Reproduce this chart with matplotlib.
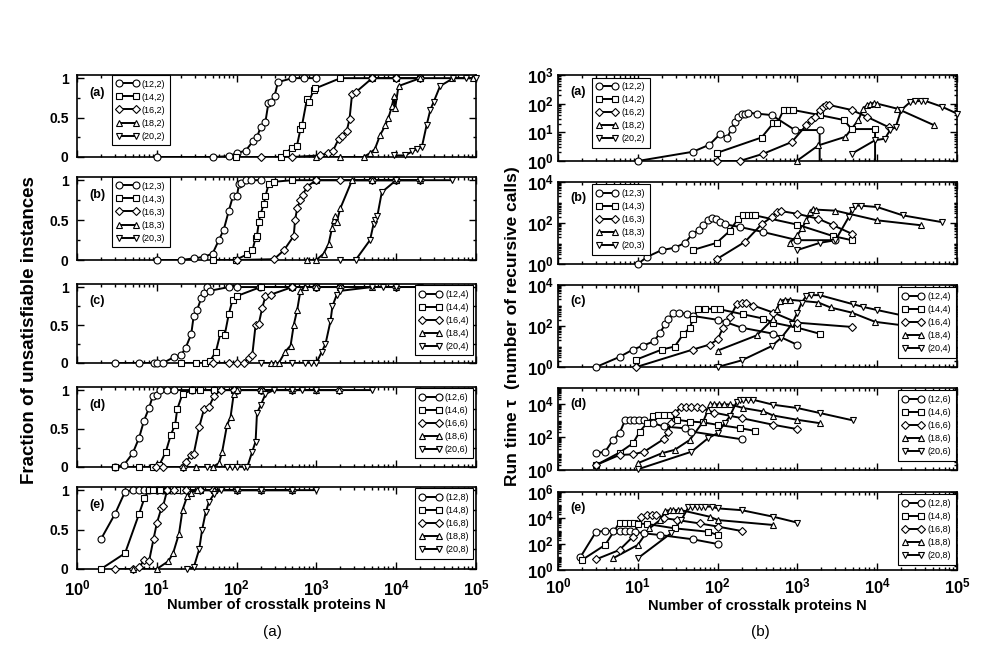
import numpy as np
import matplotlib
matplotlib.use('Agg')
import matplotlib.pyplot as plt
from matplotlib.lines import Line2D
from matplotlib.ticker import FixedLocator, LogLocator, NullFormatter, FuncFormatter

plt.rcParams['font.family'] = ['Liberation Sans', 'DejaVu Sans']
plt.rcParams['mathtext.fontset'] = 'custom'
plt.rcParams['mathtext.bf'] = 'Liberation Sans:bold'
plt.rcParams['mathtext.rm'] = 'Liberation Sans:bold'

sizes = [12, 14, 16, 18, 20]
ks = [2, 3, 4, 6, 8]
markers = ['o', 's', 'D', '^', 'v']
tags = ['(a)', '(b)', '(c)', '(d)', '(e)']

# ---- fraction of unsatisfiable instances (left column) ----
frac_a_N = [[10, 50, 80, 100, 130, 160, 180, 200, 230, 250, 270, 300, 330, 500, 700, 1000],
            [97, 355, 410, 500, 570, 630, 660, 760, 800, 930, 970, 2000, 5000, 10000, 20000],
            [200, 500, 1100, 1400, 1600, 1900, 2100, 2400, 2600, 2800, 3100, 5000, 10000, 20000],
            [1000, 2000, 3900, 4700, 5400, 6300, 7300, 8000, 8900, 9300, 9700, 10700, 20000, 50000, 93000],
            [9500, 13000, 15800, 18000, 21000, 24000, 26800, 29500, 35500, 52000, 76000, 100000]]
frac_a_y = [[0, 0, 0.01, 0.05, 0.08, 0.2, 0.25, 0.38, 0.45, 0.68, 0.7, 0.78, 0.95, 1, 1, 1],
            [0, 0, 0.05, 0.12, 0.14, 0.35, 0.4, 0.73, 0.7, 0.85, 0.87, 1, 1, 1, 1],
            [0, 0, 0.02, 0.05, 0.07, 0.23, 0.27, 0.33, 0.48, 0.8, 0.82, 1, 1, 1],
            [0, 0, 0, 0.05, 0.1, 0.28, 0.4, 0.5, 0.65, 0.77, 0.62, 0.9, 1, 1, 1],
            [0.02, 0.02, 0.07, 0.1, 0.13, 0.4, 0.6, 0.7, 0.9, 1, 1, 1]]

frac_b_N = [[10, 20, 29, 39, 50, 60, 69, 80, 90, 101, 107, 115, 130, 150, 200],
            [50, 97, 135, 158, 173, 180, 190, 200, 219, 230, 252, 294, 500, 1000, 5000, 10000],
            [100, 294, 390, 520, 540, 575, 630, 680, 760, 1000, 2000, 5000, 10000, 20000],
            [760, 1000, 1230, 1420, 1570, 1650, 1720, 1800, 2000, 2800, 5000, 10000, 20000],
            [2000, 3100, 4700, 5200, 5500, 5800, 6600, 10000, 20000, 50000]]
frac_b_y = [[0, 0, 0.02, 0.04, 0.08, 0.25, 0.38, 0.62, 0.8, 0.8, 0.95, 0.97, 1, 1, 1],
            [0, 0, 0.07, 0.12, 0.28, 0.3, 0.48, 0.58, 0.7, 0.8, 0.95, 0.98, 1, 1, 1, 1],
            [0, 0.01, 0.12, 0.3, 0.5, 0.65, 0.75, 0.82, 0.92, 1, 1, 1, 1, 1],
            [0, 0, 0.08, 0.2, 0.4, 0.5, 0.55, 0.48, 0.65, 1, 1, 1, 1],
            [0, 0, 0.25, 0.45, 0.5, 0.55, 0.85, 1, 1, 1]]

frac_c_N = [[3, 6, 9.3, 10, 12, 16.5, 20, 23, 27, 29, 32, 36, 39, 43, 46, 80, 100, 196, 490, 1000],
            [20, 31, 40, 46, 55, 63, 71, 80, 89, 100, 200, 500, 1000, 2000],
            [50, 80, 100, 123, 141, 157, 173, 190, 210, 230, 267, 500, 1000, 2000, 10000],
            [267, 307, 338, 407, 475, 520, 575, 630, 724, 1000, 2000, 5000, 10000, 20000],
            [200, 500, 724, 845, 1000, 1170, 1300, 1500, 1590, 1800, 2000, 5000, 6900, 10000, 20000]]
frac_c_y = [[0, 0, 0, 0, 0, 0.08, 0.1, 0.2, 0.38, 0.62, 0.7, 0.85, 0.92, 1, 0.95, 1, 1, 1, 1, 1],
            [0, 0, 0, 0.02, 0.15, 0.4, 0.37, 0.65, 0.83, 0.88, 1, 1, 1, 1],
            [0, 0, 0, 0, 0.07, 0.1, 0.5, 0.52, 0.73, 0.88, 0.9, 1, 1, 1, 1],
            [0, 0, 0, 0.15, 0.23, 0.5, 0.7, 0.95, 1, 1, 1, 1, 1, 1],
            [0, 0, 0, 0, 0, 0.15, 0.25, 0.55, 0.75, 0.9, 0.95, 1, 1, 1, 1]]

frac_d_N = [[3, 3.9, 5, 6, 6.9, 8, 8.9, 10, 11, 13.5, 16.5, 28, 52, 100, 200],
            [3, 6, 9, 10.7, 13, 15, 17, 18, 21, 28, 35, 52, 92],
            [9.7, 12, 21, 23, 27, 29, 34, 39, 45, 52, 63, 92, 200, 500, 1900],
            [21, 31, 50, 60, 66, 76, 84, 92, 100, 200, 500, 1000, 1900],
            [43, 76, 88, 100, 124, 136, 157, 173, 180, 200, 230, 294, 500, 660, 1000, 5000]]
frac_d_y = [[0, 0.03, 0.18, 0.38, 0.6, 0.77, 0.92, 0.93, 1, 1, 1, 1, 1, 1, 1],
            [0, 0, 0, 0.02, 0.2, 0.42, 0.55, 0.75, 0.95, 1, 1, 1, 1],
            [0, 0, 0, 0.07, 0.15, 0.17, 0.52, 0.75, 0.78, 0.92, 1, 1, 1, 1, 1],
            [0, 0, 0, 0.05, 0.2, 0.55, 0.65, 0.95, 1, 1, 1, 1, 1],
            [0, 0, 0, 0, 0, 0, 0.2, 0.33, 0.7, 0.8, 0.95, 1, 1, 1, 1, 1]]

frac_e_N = [[2, 3, 4, 5, 6, 7, 8, 10, 12, 15, 20],
            [2, 4, 6, 7, 8, 9, 11, 13.5, 18, 24, 35, 52],
            [3, 5, 6, 7, 8, 9.1, 10, 11.4, 12, 13.5, 16.5, 23, 35, 50, 100, 200, 500],
            [5, 10, 14, 16, 19, 21, 24, 27, 32, 52, 100, 200, 500],
            [24, 29, 34, 37, 41, 45, 52, 63, 100, 200, 500, 1000]]
frac_e_y = [[0.38, 0.7, 0.98, 1, 1, 1, 1, 1, 1, 1, 1],
            [0, 0.2, 0.7, 0.9, 1, 1, 1, 1, 1, 1, 1, 1],
            [0, 0, 0.02, 0.12, 0.1, 0.38, 0.58, 0.77, 0.8, 1, 1, 1, 1, 1, 1, 1, 1],
            [0, 0, 0.1, 0.2, 0.45, 0.75, 0.92, 0.97, 1, 1, 1, 1, 1],
            [0, 0.02, 0.25, 0.5, 0.72, 0.85, 0.95, 1, 1, 1, 1, 1]]

# ---- run time (right column) ----
time_a_N = [[10, 49, 79, 107, 132, 150, 165, 180, 200, 220, 240, 310, 475, 930, 1900, 5000],
            [97, 355, 500, 560, 670, 780, 890, 1900, 3800, 4800, 9400, 20000],
            [97, 190, 375, 850, 1300, 1500, 1660, 1900, 2100, 2300, 2500, 4800, 7400, 14000],
            [980, 1830, 4000, 5800, 6700, 7400, 8100, 9000, 10000, 17800, 51000],
            [4800, 9400, 12500, 14500, 17000, 20000, 26000, 30000, 35000, 40000, 65000, 100000]]
time_a_y = [[1, 2.1, 3.7, 8.6, 6.5, 13.5, 23, 35, 42, 45, 48, 45, 40, 12, 12, 0],
            [1.9, 6.6, 21, 21, 60, 60, 60, 40, 27, 13, 13, 0],
            [1, 1, 1.8, 4.6, 18, 27, 35, 60, 78, 89, 90, 60, 35, 15],
            [1, 3.5, 7, 27, 67, 89, 100, 105, 100, 67, 18],
            [1.8, 5.3, 6, 12, 15, 60, 115, 120, 125, 125, 78, 45]]

time_b_N = [[10, 13, 20, 29, 39, 48, 59, 66, 76, 84, 95, 107, 125, 190, 375, 1000, 3000],
            [49, 97, 142, 180, 210, 240, 270, 295, 1000, 2800, 4800],
            [97, 220, 355, 475, 550, 630, 1000, 1830, 2800, 4800],
            [800, 1000, 1150, 1300, 1450, 1550, 1700, 3000, 10000, 35000],
            [1000, 1900, 3000, 4400, 4800, 5300, 6200, 10000, 21000, 65000]]
time_b_y = [[1, 2.2, 4.8, 6.2, 10.7, 28, 48, 80, 135, 180, 150, 110, 86, 64, 36, 14.5, 14.5],
            [4.8, 10.7, 41, 160, 235, 235, 235, 235, 83, 23, 14.5],
            [1.7, 12, 86, 195, 340, 380, 280, 160, 78, 30],
            [10.7, 25, 60, 135, 340, 490, 450, 400, 135, 78],
            [4.8, 10.7, 14.5, 195, 450, 700, 700, 600, 235, 110]]

time_c_N = [[3, 5.9, 8.7, 11.6, 16, 19, 22, 24, 28, 33, 41, 49, 100, 129, 200, 500, 1000],
            [9.6, 20, 29, 37, 45, 49, 57, 70, 90, 107, 210, 375, 500, 1000, 1900],
            [9.6, 49, 80, 100, 117, 142, 174, 200, 230, 280, 500, 1000, 4800],
            [100, 310, 500, 550, 610, 700, 810, 1830, 2600, 4800, 9400, 20000],
            [100, 200, 475, 630, 850, 1000, 1130, 1300, 1500, 1900, 5000, 6700, 10000, 23000, 60000]]
time_c_y = [[1, 3.1, 7.1, 11, 18, 47, 120, 230, 420, 420, 400, 310, 200, 150, 83, 42, 12],
            [2.3, 7.1, 10, 39, 83, 210, 700, 700, 680, 650, 370, 230, 145, 83, 42],
            [1, 7.1, 12.5, 22, 83, 260, 1150, 1300, 1400, 1000, 450, 145, 90],
            [6.3, 35, 230, 650, 1700, 1900, 1900, 1400, 800, 450, 160, 110],
            [1, 2.1, 10.4, 27, 120, 450, 1400, 3000, 3200, 3200, 1150, 850, 600, 300, 150]]

time_d_N = [[3, 3.9, 4.9, 5.9, 6.9, 8, 9, 10.5, 12, 15.6, 21, 39, 47, 200],
            [3, 5.9, 8.7, 10.6, 13, 15.6, 18, 21, 25, 31, 45, 66, 100, 190, 295],
            [3, 5.9, 8.7, 12, 21, 24, 26, 29, 35, 40, 47, 55, 63, 89, 200, 500, 1000],
            [10, 20, 29, 45, 66, 76, 80, 90, 105, 120, 142, 210, 375, 500, 1000, 1900],
            [10, 47, 76, 100, 123, 142, 174, 190, 210, 240, 280, 500, 1000, 1900, 5000]]
time_d_y = [[10.5, 13, 69, 175, 1050, 1050, 1050, 1050, 1050, 720, 450, 350, 220, 75],
            [2, 11.5, 43, 220, 720, 1850, 2300, 2300, 2300, 1150, 900, 800, 570, 360, 240],
            [2, 8.3, 9, 13, 75, 220, 720, 2900, 6800, 6800, 6800, 6500, 6000, 3200, 1450, 570, 310],
            [2.6, 10.5, 17, 69, 900, 4700, 10000, 10000, 10000, 10000, 10000, 6000, 3700, 2100, 1150, 720],
            [1.1, 13, 87, 175, 720, 1850, 15000, 19000, 19000, 19000, 19000, 9500, 6000, 3000, 1050]]

time_e_N = [[1.9, 3, 3.9, 4.9, 5.9, 6.9, 8, 9.2, 12, 19, 49, 100],
            [2, 3.9, 5.9, 7, 8, 9, 10, 13, 29, 76, 100],
            [3, 5.9, 8.7, 11, 13, 15, 17, 21, 31, 60, 100, 200],
            [4.9, 10, 14, 19, 22, 25, 28, 32, 35, 80, 100, 500],
            [10, 26, 35, 43, 48, 55, 62, 70, 84, 100, 200, 500, 1000]]
time_e_y = [[9.4, 880, 1000, 1000, 1000, 1000, 950, 880, 660, 490, 230, 100],
            [5.9, 85, 4400, 4400, 4400, 4000, 3700, 3500, 1600, 880, 490],
            [6.6, 35, 370, 11000, 17000, 17000, 17000, 10000, 7000, 3800, 2200, 1000],
            [8, 85, 1600, 7000, 35000, 40000, 40000, 40000, 40000, 12500, 7000, 2900],
            [8, 660, 7000, 65000, 75000, 75000, 75000, 75000, 75000, 55000, 40000, 12500, 4400]]

frac_N = [frac_a_N, frac_b_N, frac_c_N, frac_d_N, frac_e_N]
frac_y = [frac_a_y, frac_b_y, frac_c_y, frac_d_y, frac_e_y]
time_N = [time_a_N, time_b_N, time_c_N, time_d_N, time_e_N]
time_y = [time_a_y, time_b_y, time_c_y, time_d_y, time_e_y]
time_top = [1e3, 1e4, 1e4, 1e5, 1e6]
time_major = [[1, 1e1, 1e2, 1e3], [1, 1e2, 1e4], [1, 1e2, 1e4], [1, 1e2, 1e4], [1, 1e2, 1e4, 1e6]]

W, H = 981, 653
left_rows = [(75, 157), (177, 260), (284, 363), (387, 467), (487, 569)]
right_rows = [(75, 161), (182, 264), (285, 367), (388, 470), (492, 570)]

fig = plt.figure(figsize=(W / 100, H / 100), dpi=100)

pow10 = FuncFormatter(lambda v, p: r'$\mathbf{10^{%d}}$' % round(np.log10(v)))


def style(ax, last):
    ax.set_xscale('log')
    ax.set_xlim(1, 1e5)
    ax.xaxis.set_major_locator(FixedLocator([10.0 ** i for i in range(6)]))
    ax.xaxis.set_minor_locator(LogLocator(base=10, subs=np.arange(2, 10), numticks=20))
    ax.xaxis.set_minor_formatter(NullFormatter())
    ax.xaxis.set_major_formatter(pow10 if last else NullFormatter())
    ax.tick_params(which='both', direction='in', top=True, right=True, width=1)
    ax.tick_params(which='major', length=5, labelsize=10, pad=2)
    ax.tick_params(axis='x', which='major', labelsize=12, pad=5)
    ax.tick_params(which='minor', length=2.5)
    for lab in ax.get_yticklabels() + ax.get_xticklabels():
        lab.set_fontweight('bold')
    for s in ax.spines.values():
        s.set_linewidth(1.2)


def draw(ax, n, y, m, logy):
    n = np.array(n, float)
    y = np.array(y, float)
    ax.plot(n, y, '-', color='k', lw=1.4, zorder=2)
    ok = y > 0 if logy else np.ones(len(y), bool)
    ax.plot(n[ok], y[ok], ls='none', marker=m, ms=5 if m != 'D' else 4,
            mfc='white', mec='k', mew=0.8, clip_on=False, zorder=3)


def handles(k):
    hs = [Line2D([], [], color='k', lw=1.4, marker=m, ms=5 if m != 'D' else 4,
                 mfc='white', mec='k', mew=0.8) for m in markers]
    return hs, ['(%d,%d)' % (s, k) for s in sizes]


leg_kw = dict(fontsize=6.5, numpoints=2, handlelength=2.4, frameon=True, fancybox=False,
              edgecolor='k', framealpha=1, labelspacing=0.45, borderpad=0.5, handletextpad=0.4)

for i in range(5):
    # left column
    t, b = left_rows[i]
    ax = fig.add_axes([77 / W, 1 - b / H, 399 / W, (b - t) / H])
    ax.set_ylim(0, 1.04)
    for j in range(5):
        draw(ax, frac_N[i][j], frac_y[i][j], markers[j], False)
    ax.yaxis.set_major_locator(FixedLocator([0, 0.5, 1]))
    ax.yaxis.set_major_formatter(FuncFormatter(lambda v, p: {0: '0', 0.5: '0.5', 1: '1'}[v]))
    ax.yaxis.set_minor_locator(FixedLocator([0.25, 0.75]))
    style(ax, i == 4)
    ax.tick_params(axis='y', which='major', pad=6)
    ax.tick_params(axis='x', which='major', pad=6.5)
    ax.text(0.03, 0.78, tags[i], transform=ax.transAxes, fontsize=9, fontweight='bold', va='center')
    hs, labs = handles(ks[i])
    if i < 2:
        lg = ax.legend(hs, labs, loc='upper left', bbox_to_anchor=(0.088, 1.0), borderaxespad=0, **leg_kw)
    else:
        lg = ax.legend(hs, labs, loc='upper right', bbox_to_anchor=(0.993, 0.985), borderaxespad=0, **leg_kw)
    lg.get_frame().set_linewidth(0.8)

    # right column
    t, b = right_rows[i]
    ax = fig.add_axes([558 / W, 1 - b / H, 399 / W, (b - t) / H])
    ax.set_yscale('log')
    ax.set_ylim(1, time_top[i])
    for j in range(5):
        draw(ax, time_N[i][j], time_y[i][j], markers[j], True)
    ax.yaxis.set_major_locator(FixedLocator(time_major[i]))
    ax.yaxis.set_major_formatter(pow10)
    ax.yaxis.set_minor_locator(LogLocator(base=10, subs=np.arange(1, 10), numticks=30))
    ax.yaxis.set_minor_formatter(NullFormatter())
    ax.set_ylim(1, time_top[i])
    style(ax, i == 4)
    ax.tick_params(axis='y', which='major', labelsize=12, pad=3)
    ax.text(0.03, 0.8, tags[i], transform=ax.transAxes, fontsize=9, fontweight='bold', va='center')
    hs, labs = handles(ks[i])
    if i < 2:
        lg = ax.legend(hs, labs, loc='upper left', bbox_to_anchor=(0.085, 0.97), borderaxespad=0, **leg_kw)
    else:
        lg = ax.legend(hs, labs, loc='upper right', bbox_to_anchor=(0.997, 0.97), borderaxespad=0, **leg_kw)
    lg.get_frame().set_linewidth(0.8)

fig.text(276 / W, 1 - 605 / H, 'Number of crosstalk proteins N', ha='center', va='center',
         fontsize=10.5, fontweight='bold')
fig.text(757 / W, 1 - 606 / H, 'Number of crosstalk proteins N', ha='center', va='center',
         fontsize=10.5, fontweight='bold')
fig.text(30 / W, 1 - 330 / H, 'Fraction of unsatisfiable instances', rotation=90,
         ha='center', va='center', fontsize=13.5, fontweight='bold')
fig.text(512 / W, 1 - 326 / H, 'Run time \u03c4  (number of recursive calls)', rotation=90,
         ha='center', va='center', fontsize=12.5, fontweight='bold')
fig.text(272 / W, 1 - 632 / H, '(a)', ha='center', va='center', fontsize=11)
fig.text(760 / W, 1 - 632 / H, '(b)', ha='center', va='center', fontsize=11)

fig.savefig('out.png', dpi=100)
